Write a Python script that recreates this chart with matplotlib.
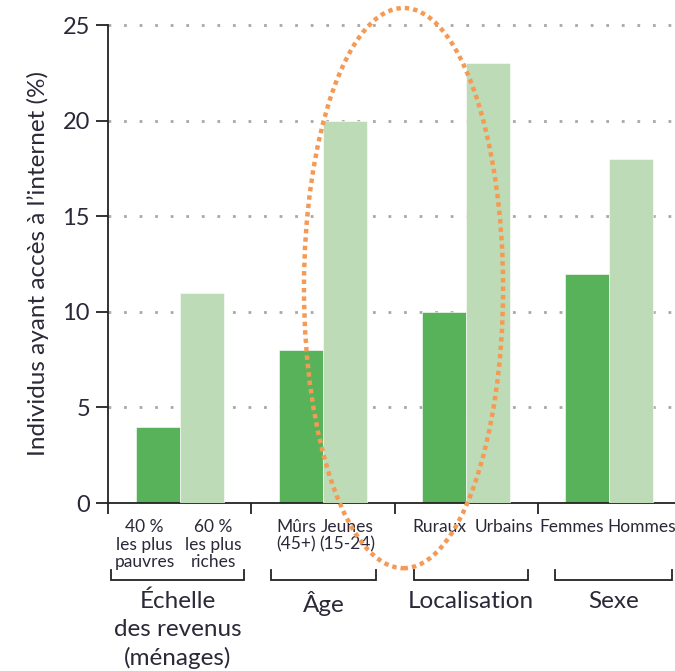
import matplotlib
matplotlib.use("Agg")
import matplotlib.pyplot as plt
import numpy as np
from matplotlib.patches import Ellipse

# data
groups = ["Échelle\ndes revenus\n(ménages)", "Âge", "Localisation", "Sexe"]
low_labels = ["40 %\nles plus\npauvres", "Mûrs\n(45+)", "Ruraux", "Femmes"]
high_labels = ["60 %\nles plus\nriches", "Jeunes\n(15-24)", "Urbains", "Hommes"]
low_vals = [4, 8, 10, 12]
high_vals = [11, 20, 23, 18]
yticks = [0, 5, 10, 15, 20, 25]

dark = "#58b25a"
light = "#bddbb6"
txt = "#2b2838"

plt.rcParams["font.family"] = ["Lato", "DejaVu Sans"]


def main():
    fig = plt.figure(figsize=(6.75, 6.71), dpi=100)
    ax = fig.add_axes([108 / 675, 1 - 503 / 671, 573 / 675, 478 / 671])

    x = np.arange(len(groups))
    w = 0.307
    ax.bar(x - w / 2, low_vals, w, color=dark, edgecolor="white", linewidth=0.4, zorder=2)
    ax.bar(x + w / 2, high_vals, w, color=light, edgecolor="white", linewidth=0.4, zorder=4)

    ax.set_xlim(-0.5, 3.5)
    ax.set_ylim(0, 25)

    # dotted grid
    for v in yticks[1:]:
        ax.axhline(v, color="#a8a8a8", lw=2.0, linestyle=(0, (1, 4.6)), zorder=1, clip_on=False)

    for s in ["top", "right"]:
        ax.spines[s].set_visible(False)
    for s in ["left", "bottom"]:
        ax.spines[s].set_color("#222222")
        ax.spines[s].set_linewidth(1.3)

    ax.set_yticks(yticks)
    ax.set_yticklabels([str(v) for v in yticks], fontsize=17, color=txt)
    ax.tick_params(axis="y", direction="out", length=9, width=1.3, color="#222222", pad=4)
    ax.set_xticks(np.arange(-0.5, 4, 1))
    ax.set_xticklabels([])
    ax.tick_params(axis="x", direction="out", length=8, width=1.3, color="#222222")

    ax.set_ylabel("Individus ayant accès à l’internet (%)", fontsize=17.5, color=txt, labelpad=10)

    # sub labels
    px = 1 / 143.3
    py = 1 / 19.12
    lo_off = [-35, -27, -27, -38]
    hi_off = [34, 24, 38, 32]
    for i in range(len(groups)):
        ax.text(i + lo_off[i] * px, -16 * py, low_labels[i], ha="center", va="top",
                fontsize=12.5, color=txt, linespacing=1.12, clip_on=False)
        ax.text(i + hi_off[i] * px, -16 * py, high_labels[i], ha="center", va="top",
                fontsize=12.5, color=txt, linespacing=1.12, clip_on=False)

    # brackets
    brackets = [(111, 244), (271, 376), (414, 528), (555, 672)]
    for i, (a, b) in enumerate(brackets):
        xa = (a - 108) * px - 0.5
        xb = (b - 108) * px - 0.5
        ya = -(570 - 503) * py
        yb = -(580 - 503) * py
        ax.plot([xa, xa, xb, xb], [ya, yb, yb, ya], color="#222222", lw=1.3,
                clip_on=False, solid_joinstyle="miter")
        ax.text((xa + xb) / 2, -(591 - 503) * py, groups[i], ha="center", va="top",
                fontsize=17.5, color=txt, linespacing=1.38, clip_on=False)

    # highlight ellipse, on top of everything
    e = Ellipse((1.563, 11.24), 1.39, 29.3, fill=False, edgecolor="#f59a55",
                lw=3.2, linestyle=(0, (1, 0.9)), zorder=10, clip_on=False)
    ax.add_patch(e)

    fig.savefig("out.png", dpi=100)


if __name__ == '__main__':
    main()
